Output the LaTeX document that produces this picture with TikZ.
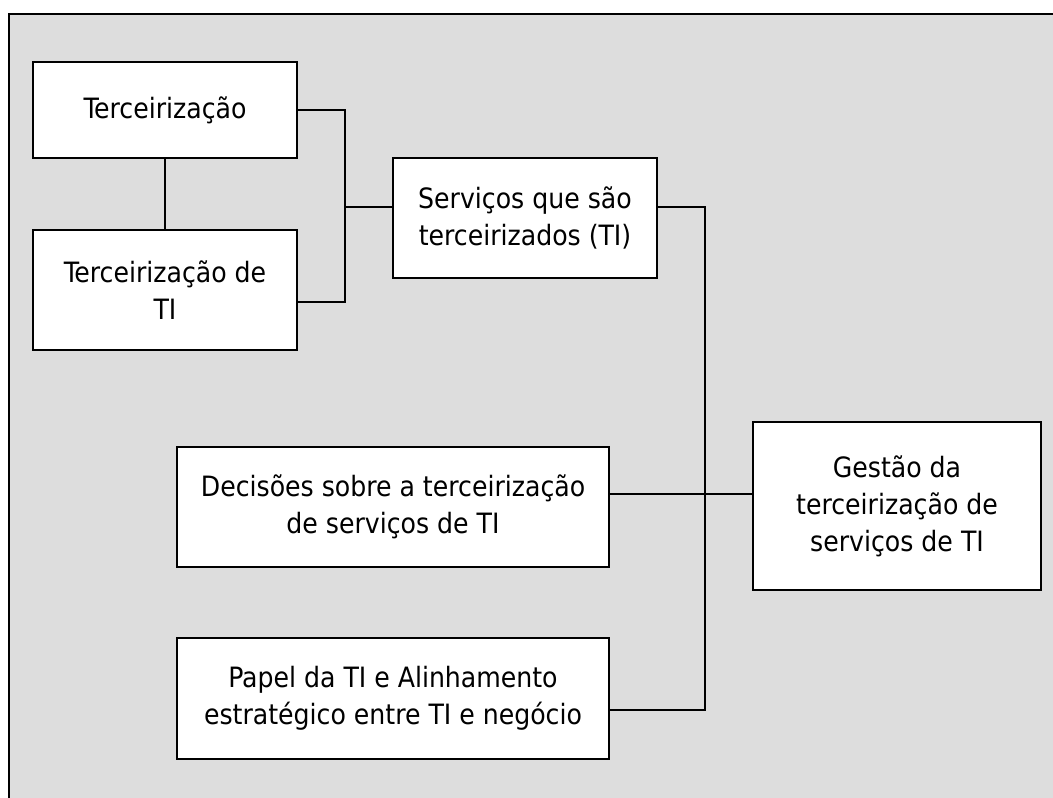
\documentclass[tikz,border=0pt]{standalone}
\usepackage{fontspec}
\setmainfont{DejaVu Sans Condensed}
\definecolor{fundo}{RGB}{221,221,221}

\begin{document}
\begin{tikzpicture}[x=1pt, y=-1pt, line width=2pt,
        caixa/.style={draw, fill=white, align=center, inner sep=0pt,
            font=\fontsize{28}{37}\selectfont}]
        \useasboundingbox (0,0) rectangle (1053,798);
        \draw[fill=fundo] (9,14) rectangle (1080,830);

        \node[caixa, minimum width=264pt, minimum height=96pt] (terc) at (165,110) {Terceirização};
        \node[caixa, minimum width=264pt, minimum height=120pt] (tercti) at (165,290) {Terceirização de\\TI};
        \node[caixa, minimum width=264pt, minimum height=120pt] (serv) at (525,218) {Serviços que são\\terceirizados (TI)};
        \node[caixa, minimum width=432pt, minimum height=120pt] (dec) at (393,507) {Decisões sobre a terceirização\\de serviços de TI};
        \node[caixa, minimum width=432pt, minimum height=121pt] (papel) at (393,698.5) {Papel da TI e Alinhamento\\estratégico entre TI e negócio};
        \node[caixa, minimum width=288pt, minimum height=168pt] (gest) at (897,506) {Gestão da\\terceirização de\\serviços de TI};

        \coordinate (j1) at (345,207);
        \coordinate (j2) at (705,494);
        \draw (terc.south) -- (tercti.north);
        \draw (terc.east) -| (j1) |- ([yshift=-12pt]tercti.east);
        \draw (j1) -- ([yshift=11pt]serv.west);
        \draw ([yshift=11pt]serv.east) -| (j2) |- ([yshift=-11.5pt]papel.east);
        \draw (dec.east |- j2) -- (gest.west |- j2);
    \end{tikzpicture}
\end{document}
